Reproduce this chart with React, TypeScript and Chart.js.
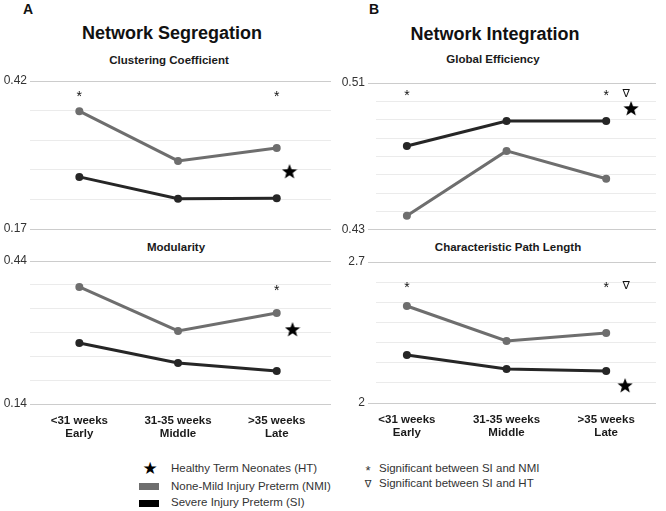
import React, { useEffect, useRef } from "react";
import { Chart, registerables } from "chart.js";

Chart.register(...registerables);
Chart.defaults.font.family = "'Liberation Sans', Arial, sans-serif";

// ---------- data ----------
const categories = [
  ["<31 weeks", "Early"],
  ["31-35 weeks", "Middle"],
  [">35 weeks", "Late"],
];
const categoryX = [0, 1, 2];

// Clustering Coefficient
const clusteringNMI = [0.369, 0.285, 0.307];
const clusteringSI = [0.258, 0.221, 0.222];
const clusteringHT = 0.268;
const clusteringTicks = [0.17, 0.22, 0.27, 0.32, 0.37, 0.42];
const clusteringSigNMI = [true, false, true];
const clusteringSigHT = [false, false, false];
const clusteringSigLevel = 0.4;

// Global Efficiency
const efficiencyNMI = [0.4376, 0.473, 0.4578];
const efficiencySI = [0.4757, 0.4893, 0.4893];
const efficiencyHT = 0.4964;
const efficiencyTicks = [0.43, 0.44, 0.45, 0.46, 0.47, 0.48, 0.49, 0.5, 0.51];
const efficiencySigNMI = [true, false, true];
const efficiencySigHT = [false, false, true];
const efficiencySigLevel = 0.5051;

// Modularity
const modularityNMI = [0.3855, 0.2932, 0.3309];
const modularitySI = [0.268, 0.226, 0.2093];
const modularityHT = 0.2974;
const modularityTicks = [0.14, 0.19, 0.24, 0.29, 0.34, 0.39, 0.44];
const modularitySigNMI = [false, false, true];
const modularitySigHT = [false, false, false];
const modularitySigLevel = 0.3855;

// Characteristic Path Length
const pathNMI = [2.4815, 2.3077, 2.3475];
const pathSI = [2.2382, 2.1687, 2.1588];
const pathHT = 2.0893;
const pathTicks = [2, 2.1, 2.2, 2.3, 2.4, 2.5, 2.6, 2.7];
const pathSigNMI = [true, false, true];
const pathSigHT = [false, false, true];
const pathSigLevel = 2.5908;

// ---------- styles ----------
const GRAY = "#6e6e6e";
const BLACK = "#262626";
const MAJOR_GRID = "#cccccc";
const MINOR_GRID = "#ebebeb";

function makeStar(size: number, color: string) {
  const c = document.createElement("canvas");
  c.width = size;
  c.height = size;
  const ctx = c.getContext("2d")!;
  ctx.fillStyle = color;
  ctx.beginPath();
  const cx = size / 2;
  const cy = size / 2 + size * 0.06;
  const R = size / 2;
  const r = R * 0.42;
  for (let k = 0; k < 10; k++) {
    const ang = -Math.PI / 2 + (k * Math.PI) / 5;
    const rad = k % 2 === 0 ? R : r;
    ctx.lineTo(cx + rad * Math.cos(ang), cy + rad * Math.sin(ang));
  }
  ctx.closePath();
  ctx.fill();
  return c;
}

type PanelCfg = {
  nmi: number[];
  si: number[];
  ht: number;
  htOffset: number;
  ticks: number[];
  sigNMI: boolean[];
  sigHT: boolean[];
  sigLevel: number;
  left: number;
  top: number;
  width: number;
  height: number;
  xMin: number;
  xMax: number;
  axisWidth: number;
  tickLength: number;
  padTop: number;
  padBottom: number;
  padRight: number;
  showX: boolean;
};

const panels: PanelCfg[] = [
  {
    nmi: clusteringNMI, si: clusteringSI, ht: clusteringHT, htOffset: 0.13,
    ticks: clusteringTicks, sigNMI: clusteringSigNMI, sigHT: clusteringSigHT, sigLevel: clusteringSigLevel,
    left: 0, top: 70, width: 340, height: 170, xMin: -0.5, xMax: 2.55,
    axisWidth: 30, tickLength: 0, padTop: 11, padBottom: 11, padRight: 0, showX: false,
  },
  {
    nmi: efficiencyNMI, si: efficiencySI, ht: efficiencyHT, htOffset: 0.25,
    ticks: efficiencyTicks, sigNMI: efficiencySigNMI, sigHT: efficiencySigHT, sigLevel: efficiencySigLevel,
    left: 340, top: 70, width: 326, height: 170, xMin: -0.31, xMax: 2.5,
    axisWidth: 36, tickLength: 8, padTop: 13, padBottom: 10, padRight: 10, showX: false,
  },
  {
    nmi: modularityNMI, si: modularitySI, ht: modularityHT, htOffset: 0.16,
    ticks: modularityTicks, sigNMI: modularitySigNMI, sigHT: modularitySigHT, sigLevel: modularitySigLevel,
    left: 0, top: 250, width: 340, height: 205, xMin: -0.5, xMax: 2.55,
    axisWidth: 30, tickLength: 0, padTop: 11, padBottom: 1, padRight: 0, showX: true,
  },
  {
    nmi: pathNMI, si: pathSI, ht: pathHT, htOffset: 0.19,
    ticks: pathTicks, sigNMI: pathSigNMI, sigHT: pathSigHT, sigLevel: pathSigLevel,
    left: 340, top: 250, width: 326, height: 205, xMin: -0.31, xMax: 2.5,
    axisWidth: 36, tickLength: 8, padTop: 12, padBottom: 2, padRight: 10, showX: true,
  },
];

function Panel({ cfg }: { cfg: PanelCfg }) {
  const ref = useRef<HTMLCanvasElement>(null);
  useEffect(() => {
    const star = makeStar(16, "#000");
    const yMin = cfg.ticks[0];
    const yMax = cfg.ticks[cfg.ticks.length - 1];
    const markerPlugin = {
      id: "sigMarkers",
      afterDatasetsDraw(chart: any) {
        const ctx = chart.ctx;
        const xs = chart.scales.x;
        const ys = chart.scales.y;
        const y = ys.getPixelForValue(cfg.sigLevel);
        ctx.save();
        ctx.fillStyle = "#111";
        ctx.textAlign = "center";
        cfg.sigNMI.forEach((s, i) => {
          if (!s) return;
          ctx.font = "14px 'Liberation Sans', Arial, sans-serif";
          ctx.textBaseline = "alphabetic";
          ctx.fillText("*", xs.getPixelForValue(categoryX[i]), y + 8);
        });
        cfg.sigHT.forEach((s, i) => {
          if (!s) return;
          ctx.font = "italic 11px 'DejaVu Sans', sans-serif";
          ctx.textBaseline = "middle";
          ctx.fillText("\u2207", xs.getPixelForValue(categoryX[i] + 0.2), y + 2);
        });
        ctx.restore();
      },
    };
    const chart = new Chart(ref.current!, {
      type: "line",
      data: {
        datasets: [
          {
            label: "None-Mild Injury Preterm (NMI)",
            data: categoryX.map((x, i) => ({ x, y: cfg.nmi[i] })),
            borderColor: GRAY,
            backgroundColor: GRAY,
            borderWidth: 3,
            pointRadius: 4,
            pointBorderWidth: 0,
            clip: false,
          },
          {
            label: "Severe Injury Preterm (SI)",
            data: categoryX.map((x, i) => ({ x, y: cfg.si[i] })),
            borderColor: BLACK,
            backgroundColor: BLACK,
            borderWidth: 3,
            pointRadius: 4,
            pointBorderWidth: 0,
            clip: false,
          },
          {
            label: "Healthy Term Neonates (HT)",
            data: [{ x: categoryX[2] + cfg.htOffset, y: cfg.ht }],
            showLine: false,
            pointStyle: star as any,
            pointRadius: 8,
            clip: false,
          },
        ],
      },
      options: {
        animation: false,
        responsive: false,
        maintainAspectRatio: false,
        events: [],
        layout: { padding: { top: cfg.padTop, bottom: cfg.padBottom, left: 0, right: cfg.padRight } },
        plugins: { legend: { display: false }, tooltip: { enabled: false } },
        scales: {
          x: {
            type: "linear",
            min: cfg.xMin,
            max: cfg.xMax,
            display: cfg.showX,
            grid: { display: false, drawTicks: false },
            border: { display: false },
            afterBuildTicks: (ax: any) => {
              ax.ticks = categoryX.map((v) => ({ value: v }));
            },
            afterFit: (ax: any) => {
              ax.height = cfg.showX ? 50 : 0;
            },
            ticks: {
              callback: (v: any) => categories[v as number],
              color: "#1a1a1a",
              padding: 11,
              maxRotation: 0,
              autoSkip: false,
              font: { size: 11.5, weight: "bold", lineHeight: 1.1 },
            },
          },
          y: {
            type: "linear",
            min: yMin,
            max: yMax,
            afterBuildTicks: (ax: any) => {
              ax.ticks = cfg.ticks.map((v) => ({ value: v }));
            },
            afterFit: (ax: any) => {
              ax.width = cfg.axisWidth;
            },
            border: { display: false },
            grid: {
              color: (c: any) => (c.index === 0 || c.index === cfg.ticks.length - 1 ? MAJOR_GRID : MINOR_GRID),
              tickColor: (c: any) => (c.index === 0 || c.index === cfg.ticks.length - 1 ? MAJOR_GRID : "rgba(0,0,0,0)"),
              drawTicks: cfg.tickLength > 0,
              tickLength: cfg.tickLength,
              lineWidth: 1,
            },
            ticks: {
              autoSkip: false,
              padding: 3,
              color: "#333",
              font: { size: 12 },
              callback: (v: any, i: number) =>
                i === 0 || i === cfg.ticks.length - 1 ? String(v) : "",
            },
          },
        },
      } as any,
      plugins: [markerPlugin],
    });
    return () => chart.destroy();
  }, []);
  return (
    <canvas
      ref={ref}
      width={cfg.width}
      height={cfg.height}
      style={{ position: "absolute", left: cfg.left, top: cfg.top, width: cfg.width, height: cfg.height }}
    />
  );
}

const T = (props: { x: number; y: number; size: number; bold?: boolean; color?: string; children: any; align?: "center" | "left" }) => (
  <div
    style={{
      position: "absolute",
      left: props.x,
      top: props.y,
      transform: props.align === "left" ? "translate(0,-50%)" : "translate(-50%,-50%)",
      fontSize: props.size,
      fontWeight: props.bold ? "bold" : "normal",
      color: props.color || "#111",
      whiteSpace: "nowrap",
      lineHeight: 1.2,
      fontFamily: "'Liberation Sans', Arial, sans-serif",
    }}
  >
    {props.children}
  </div>
);

export default function App() {
  return (
    <div
      style={{
        position: "absolute",
        left: 0,
        top: 0,
        width: 666,
        height: 511,
        background: "#fff",
        overflow: "hidden",
        fontFamily: "'Liberation Sans', Arial, sans-serif",
      }}
    >
      <T x={28} y={9} size={14} bold>A</T>
      <T x={172} y={34} size={18} bold>Network Segregation</T>
      <T x={169} y={61} size={11.5} bold color="#1a1a1a">Clustering Coefficient</T>
      <T x={374} y={9} size={14} bold>B</T>
      <T x={495} y={35} size={18} bold>Network Integration</T>
      <T x={493} y={60} size={11.5} bold color="#1a1a1a">Global Efficiency</T>
      <T x={176} y={248} size={11.5} bold color="#1a1a1a">Modularity</T>
      <T x={508} y={248} size={11.5} bold color="#1a1a1a">Characteristic Path Length</T>

      {panels.map((p, i) => (
        <Panel key={i} cfg={p} />
      ))}

      {/* legend */}
      <T x={150} y={469} size={17} color="#000">
        <span style={{ fontFamily: "'DejaVu Sans', sans-serif" }}>★</span>
      </T>
      <T x={171} y={469} size={11.5} color="#333" align="left">Healthy Term Neonates (HT)</T>
      <div style={{ position: "absolute", left: 139, top: 483, width: 20, height: 7, background: GRAY }} />
      <T x={171} y={487} size={11.5} color="#333" align="left">None-Mild Injury Preterm (NMI)</T>
      <div style={{ position: "absolute", left: 139, top: 500, width: 20, height: 7, background: "#000" }} />
      <T x={171} y={503} size={11.5} color="#333" align="left">Severe Injury Preterm (SI)</T>

      <T x={368} y={471} size={13} color="#333">*</T>
      <T x={379} y={469} size={11.5} color="#333" align="left">Significant between SI and NMI</T>
      <T x={368} y={484} size={10} color="#333">
        <span style={{ fontFamily: "'DejaVu Sans', sans-serif", fontStyle: "italic" }}>∇</span>
      </T>
      <T x={379} y={484} size={11.5} color="#333" align="left">Significant between SI and HT</T>
    </div>
  );
}
